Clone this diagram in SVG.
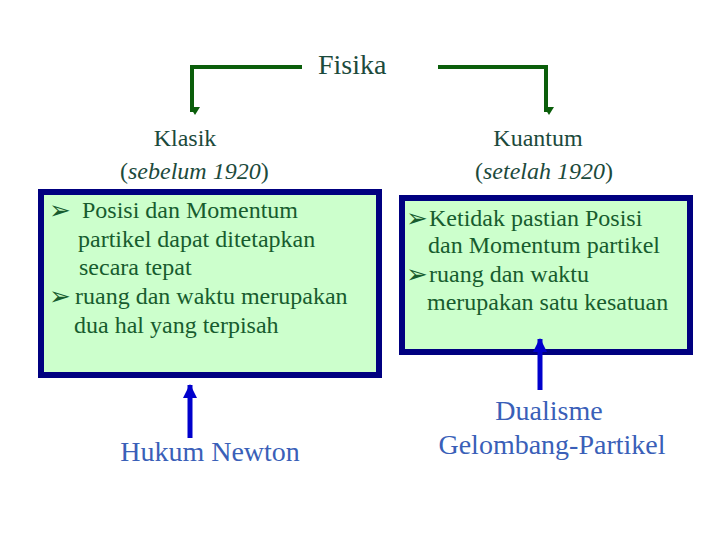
<svg xmlns="http://www.w3.org/2000/svg" width="720" height="540" viewBox="0 0 720 540">
<defs>
<style>
.t{font-family:"Liberation Serif","DejaVu Serif","Times New Roman",serif;}
.head{font-size:24px;fill:#1c4a3c;}
.title{font-size:28px;fill:#1c4a3c;}
.box{fill:#ccffcc;stroke:#000080;stroke-width:6;}
.bt{font-size:24px;fill:#175c2e;}
.bul{font-family:"DejaVu Sans",sans-serif;font-size:26px;fill:#175c2e;}
.lbl{font-size:28px;fill:#3a5fb8;}
.g{fill:none;stroke:#0b5e0b;stroke-width:4;}
.b{fill:none;stroke:#0000cc;stroke-width:5;}
</style>
<marker id="ga" markerUnits="userSpaceOnUse" markerWidth="10" markerHeight="10" viewBox="0 0 10 10" refX="5" refY="8" orient="auto-start-reverse">
<path d="M0,0 L10,0 L5,8 Z" fill="#0b5e0b" transform="rotate(-90 5 5)"/>
</marker>
<marker id="ba" markerUnits="userSpaceOnUse" markerWidth="14" markerHeight="14" viewBox="0 0 14 14" refX="13" refY="7" orient="auto">
<path d="M0,0 L14,7 L0,14 Z" fill="#0000cc"/>
</marker>
</defs>
<g id="fisika">
<text class="t title" x="318" y="74">Fisika</text>
</g>
<g id="klasik">
<text class="t head" x="185" y="146" text-anchor="middle">Klasik</text>
<text class="t head" x="120" y="179">(<tspan font-style="italic">sebelum 1920</tspan>)</text>
</g>
<g id="kuantum">
<text class="t head" x="538" y="146" text-anchor="middle">Kuantum</text>
<text class="t head" x="475" y="179">(<tspan font-style="italic">setelah 1920</tspan>)</text>
</g>
<g id="box-klasik">
<rect class="box" x="41" y="192" width="338" height="183"/>
<text class="bul" x="49" y="219">➢</text>
<text class="t bt" x="82" y="218">Posisi dan Momentum</text>
<text class="t bt" x="78" y="247">partikel dapat ditetapkan</text>
<text class="t bt" x="79" y="275">secara tepat</text>
<text class="bul" x="49" y="305">➢</text>
<text class="t bt" x="75" y="304">ruang dan waktu merupakan</text>
<text class="t bt" x="74" y="333">dua hal yang terpisah</text>
</g>
<g id="box-kuantum">
<rect class="box" x="402" y="198" width="288" height="154"/>
<text class="bul" x="406" y="227">➢</text>
<text class="t bt" x="429" y="226">Ketidak pastian Posisi</text>
<text class="t bt" x="428" y="253">dan Momentum partikel</text>
<text class="bul" x="406" y="283">➢</text>
<text class="t bt" x="429" y="282">ruang dan waktu</text>
<text class="t bt" x="427" y="310">merupakan satu kesatuan</text>
</g>
<g id="hukum-newton">
<text class="t lbl" x="210" y="461" text-anchor="middle">Hukum Newton</text>
</g>
<g id="dualisme">
<text class="t lbl" x="549" y="420" text-anchor="middle">Dualisme</text>
<text class="t lbl" x="552" y="454" text-anchor="middle">Gelombang-Partikel</text>
</g>
<g id="connectors">
<path class="g" d="M302,67 H192 V112" marker-end="url(#ga)"/>
<path class="g" d="M438,67 H546 V112" marker-end="url(#ga)"/>
<path class="b" d="M190,438 V385" marker-end="url(#ba)"/>
<path class="b" d="M540,390 V339" marker-end="url(#ba)"/>
</g>
</svg>
